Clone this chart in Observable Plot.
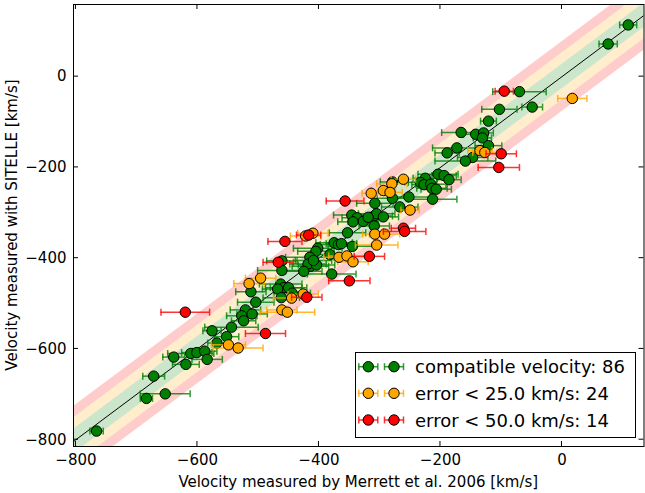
<!DOCTYPE html>
<html><head><meta charset="utf-8">
<script src="https://cdn.jsdelivr.net/npm/d3@7"></script>
<script src="https://cdn.jsdelivr.net/npm/@observablehq/plot@0.6"></script>
<style>
body{margin:0;background:#fff;}
#chart{width:645px;height:493px;}
</style></head><body><div id="chart"></div>
<script>
// [x (Merrett), y (SITELLE), x error]
const compatible = [
[109,114,14],[76,72,15],[-70,-33,44],[-103,-72,29],[-49,-67,17],[-121,-98,13],[-166,-123,32],
[-142,-127,20],[-129,-124,16],[-131,-135,15],[-121,-152,22],[-173,-157,40],[-189,-168,20],
[-147,-178,25],[-159,-186,50],[-204,-215,33],[-194,-218,20],[-186,-227,20],[-225,-224,20],
[-233,-233,20],[-227,-238,20],[-216,-237,25],[-214,-246,25],[-207,-248,25],[-252,-265,35],
[-213,-270,40],[-279,-268,25],[-279,-232,20],[-308,-279,30],[-267,-287,30],[-346,-305,30],
[-337,-311,25],[-327,-319,25],[-344,-320,25],[-309,-307,30],[-305,-302,30],[-294,-309,25],
[-309,-329,25],[-319,-310,25],[-353,-344,30],[-375,-366,30],[-368,-370,30],[-345,-374,40],
[-363,-368,25],[-402,-378,40],[-405,-385,30],[-415,-398,40],[-414,-418,30],[-418,-413,30],
[-404,-415,30],[-425,-429,30],[-382,-392,30],[-379,-435,40],[-409,-405,30],[-461,-406,25],
[-461,-427,40],[-463,-457,35],[-458,-465,30],[-450,-465,30],[-468,-468,25],[-444,-477,30],
[-462,-487,30],[-512,-474,25],[-504,-497,30],[-521,-514,25],[-527,-527,25],[-510,-523,25],
[-524,-538,20],[-544,-552,44],[-576,-560,15],[-552,-573,20],[-568,-587,15],[-611,-610,38],
[-601,-608,25],[-588,-605,20],[-584,-623,25],[-639,-618,18],[-619,-634,22],[-672,-660,18],
[-653,-699,41],[-684,-709,10],[-766,-781,11]
];
const within25 = [
[17,-48,24],[-135,-163,20],[-127,-167,20],[-261,-226,20],[-280,-236,25],[-294,-251,20],
[-283,-255,20],[-314,-257,15],[-250,-294,15],[-308,-347,20],[-292,-347,25],[-305,-371,35],
[-422,-351,25],[-410,-345,25],[-367,-398,25],[-354,-395,30],[-344,-408,25],[-496,-444,25],
[-515,-456,25],[-426,-479,25],[-445,-488,30],[-461,-514,25],[-452,-519,45],[-549,-591,28],
[-533,-598,41]
];
const within50 = [
[-95,-32,15],[-100,-170,25],[-104,-200,34],[-357,-274,31],[-317,-396,25],[-261,-334,20],
[-259,-341,35],[-417,-349,20],[-456,-363,28],[-467,-409,25],[-350,-450,34],[-420,-486,25],
[-620,-519,40],[-488,-566,33]
];
const seriesLabels = ["compatible velocity: 86", "error < 25.0 km/s: 24", "error < 50.0 km/s: 14"];
const seriesColors = ["green", "orange", "red"];
const bandLimits = [27, 52, 77];
const bandColors = ["green", "orange", "red"];
const xTicks = [-800, -600, -400, -200, 0];
const yTicks = [-800, -600, -400, -200, 0];
const xDomain = [-804, 135];
const yDomain = [-815, 159];
const xLabel = "Velocity measured by Merrett et al. 2006 [km/s]";
const yLabel = "Velocity measured with SITELLE [km/s]";

const diag = [-1000, 300];
const fmt = d => d < 0 ? "\u2212" + Math.abs(d) : String(d);
const capSymbol = {draw(ctx, size) { const h = Math.sqrt(size / Math.PI); ctx.moveTo(0, -h); ctx.lineTo(0, h); }};

const bandMarks = [];
bandLimits.forEach((lim, i) => {
  const inner = i === 0 ? null : bandLimits[i - 1];
  const style = {fill: bandColors[i], fillOpacity: 0.2, clip: true};
  if (inner === null) {
    bandMarks.push(Plot.areaY(diag, {x: d => d, y1: d => d - lim, y2: d => d + lim, ...style}));
  } else {
    bandMarks.push(Plot.areaY(diag, {x: d => d, y1: d => d + inner, y2: d => d + lim, ...style}));
    bandMarks.push(Plot.areaY(diag, {x: d => d, y1: d => d - lim, y2: d => d - inner, ...style}));
  }
});

const seriesMarks = [];
[compatible, within25, within50].forEach((data, i) => {
  const c = seriesColors[i];
  seriesMarks.push(
    Plot.ruleY(data, {y: d => d[1], x1: d => d[0] - d[2], x2: d => d[0] + d[2], stroke: c, strokeWidth: 1.5, strokeOpacity: 0.8}),
    Plot.dot(data, {x: d => d[0] - d[2], y: d => d[1], symbol: capSymbol, r: 3.5, fill: "none", stroke: c, strokeWidth: 1.5, strokeOpacity: 0.8}),
    Plot.dot(data, {x: d => d[0] + d[2], y: d => d[1], symbol: capSymbol, r: 3.5, fill: "none", stroke: c, strokeWidth: 1.5, strokeOpacity: 0.8}),
    Plot.dot(data, {x: d => d[0], y: d => d[1], r: 5.2, fill: c, stroke: "black", strokeWidth: 1})
  );
});

const plot = Plot.plot({
  width: 645, height: 493,
  marginLeft: 73, marginRight: 1.5, marginTop: 4, marginBottom: 47,
  x: {domain: xDomain},
  y: {domain: yDomain},
  style: {fontFamily: "DejaVu Sans", fontSize: "15px", color: "black", background: "white", overflow: "visible"},
  marks: [
    ...bandMarks,
    Plot.line(diag, {x: d => d, y: d => d, stroke: "black", strokeWidth: 1, clip: true}),
    ...seriesMarks,
    Plot.frame({stroke: "black", strokeWidth: 1}),
    Plot.axisX({ticks: xTicks, tickSize: 0, tickPadding: 8, tickFormat: fmt, label: null, fontSize: 15}),
    Plot.axisY({ticks: yTicks, tickSize: 0, tickPadding: 7, tickFormat: fmt, label: null, fontSize: 15})
  ]
});
document.getElementById("chart").appendChild(plot);

const sx = plot.scale("x"), sy = plot.scale("y");
const svg = d3.select(plot);
const L = sx.apply(xDomain[0]), R = sx.apply(xDomain[1]);
const T = sy.apply(yDomain[1]), B = sy.apply(yDomain[0]);
const tk = svg.append("g").attr("stroke", "black").attr("stroke-width", 1);
xTicks.forEach(v => {
  const px = sx.apply(v);
  tk.append("line").attr("x1", px).attr("x2", px).attr("y1", B).attr("y2", B - 5);
  tk.append("line").attr("x1", px).attr("x2", px).attr("y1", T).attr("y2", T + 5);
});
yTicks.forEach(v => {
  const py = sy.apply(v);
  tk.append("line").attr("y1", py).attr("y2", py).attr("x1", L).attr("x2", L + 5);
  tk.append("line").attr("y1", py).attr("y2", py).attr("x1", R).attr("x2", R - 5);
});

svg.append("text").attr("x", (L + R) / 2).attr("y", 487).attr("text-anchor", "middle")
  .attr("font-size", 15).attr("font-family", "DejaVu Sans").attr("fill", "black").text(xLabel);
svg.append("text").attr("transform", `translate(17,${(T + B) / 2}) rotate(-90)`).attr("text-anchor", "middle")
  .attr("font-size", 15).attr("font-family", "DejaVu Sans").attr("fill", "black").text(yLabel);

// legend
const lg = svg.append("g").attr("text-anchor", "start");
lg.append("rect").attr("x", 355.5).attr("y", 352.5).attr("width", 280).attr("height", 85)
  .attr("fill", "white").attr("stroke", "black").attr("stroke-width", 1);
const rowY = [366.7, 393.3, 420];
seriesLabels.forEach((lab, i) => {
  const c = seriesColors[i], y = rowY[i];
  [368.3, 394].forEach(cx => {
    lg.append("line").attr("x1", cx - 9.5).attr("x2", cx + 9.5).attr("y1", y).attr("y2", y)
      .attr("stroke", c).attr("stroke-width", 1.5).attr("stroke-opacity", 0.8);
    [cx - 9.5, cx + 9.5].forEach(ex => lg.append("line").attr("x1", ex).attr("x2", ex).attr("y1", y - 3.5).attr("y2", y + 3.5)
      .attr("stroke", c).attr("stroke-width", 1.5).attr("stroke-opacity", 0.8));
    lg.append("circle").attr("cx", cx).attr("cy", y).attr("r", 5.2).attr("fill", c).attr("stroke", "black");
  });
  lg.append("text").attr("x", 415).attr("y", y + 6.5).attr("text-anchor", "start").attr("font-size", 18)
    .attr("font-family", "DejaVu Sans").attr("fill", "black").text(lab);
});
</script></body></html>
